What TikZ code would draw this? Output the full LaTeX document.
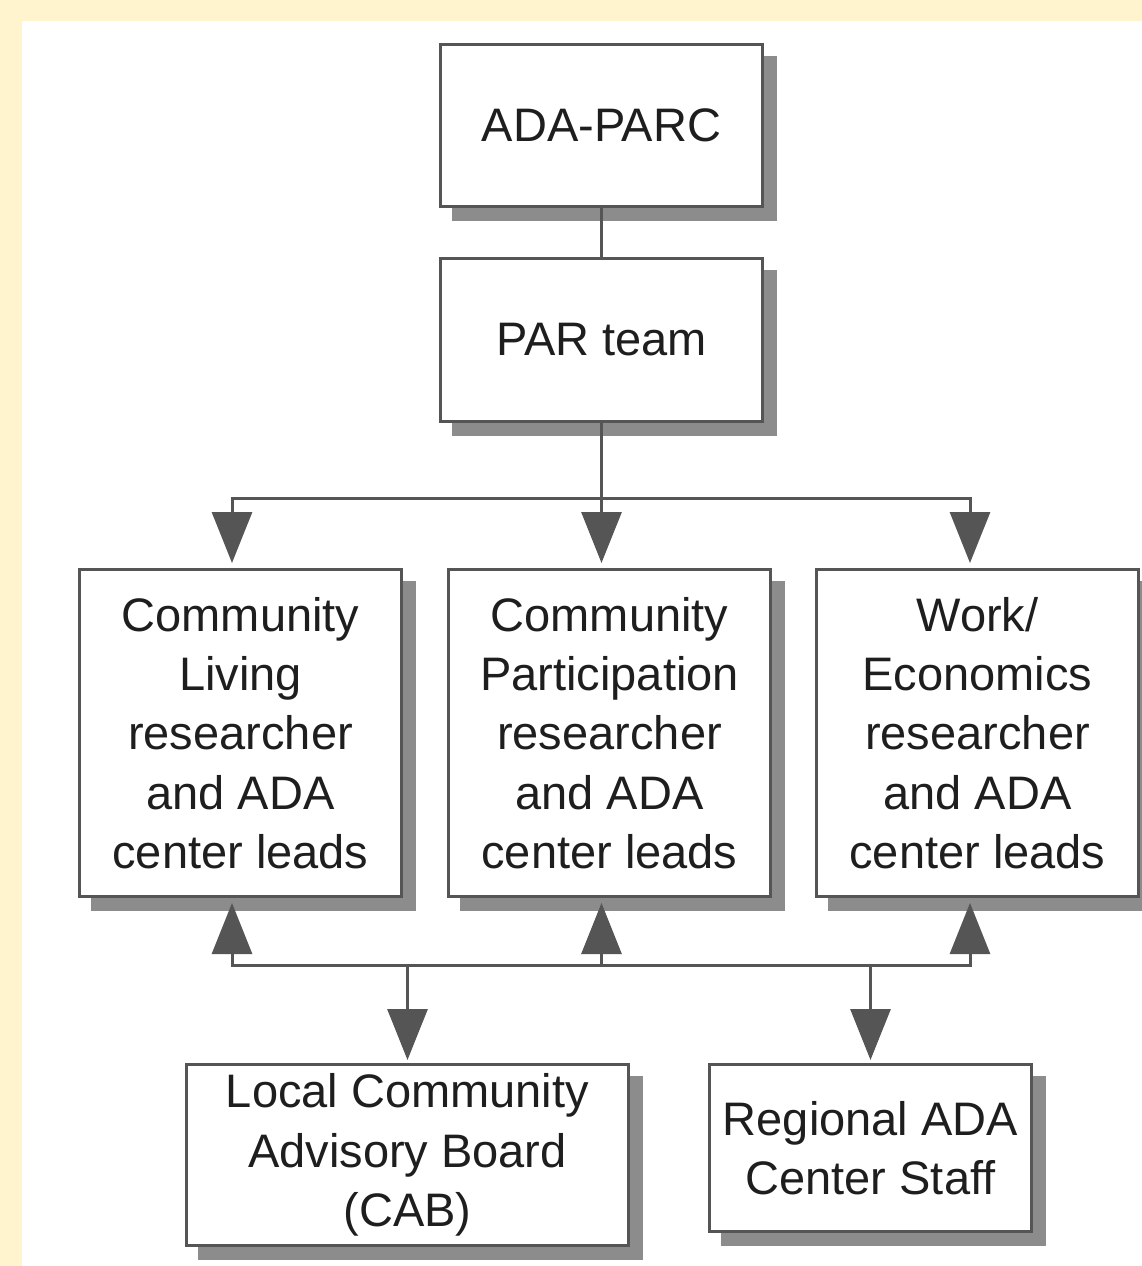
\documentclass[tikz,border=0pt]{standalone}
\usepackage{fontspec}
\setmainfont{Liberation Sans}
\usetikzlibrary{arrows.meta,shadows}
\definecolor{cream}{HTML}{FFF4CE}
\definecolor{linegray}{HTML}{555555}
\definecolor{shadowgray}{HTML}{8C8C8C}
\definecolor{textgray}{HTML}{1E1E1E}
\begin{document}
\begin{tikzpicture}[x=0.5pt,y=-0.5pt,
  box/.style={draw=linegray, line width=1.5pt, fill=white, inner sep=0pt, align=center, text=textgray,
    font=\fontsize{23.5}{29.6}\selectfont,
    general shadow={fill=shadowgray, draw=shadowgray, shadow xshift=6.5pt, shadow yshift=-6.5pt}},
  conn/.style={draw=linegray, line width=1.5pt, line join=miter},
  arr/.style={conn, -{Triangle[width=20pt,length=25.5pt]}},
]
\useasboundingbox (0,0) rectangle (1142,1266);
\fill[cream] (0,0) rectangle (1142,1266);
\fill[white] (22,21) rectangle (1142,1266);

\node[box, minimum width=161pt, minimum height=81pt] (adaparc) at (601.5,125.5) {ADA-PARC};
\node[box, minimum width=161pt, minimum height=81.5pt] (par) at (601.5,340) {PAR team};
\node[box, minimum width=161pt, minimum height=163.5pt] (cl) at (240.5,733) {Community\\Living\\researcher\\and ADA\\center leads};
\node[box, minimum width=161pt, minimum height=163.5pt] (cp) at (609.5,733) {Community\\Participation\\researcher\\and ADA\\center leads};
\node[box, minimum width=161pt, minimum height=163.5pt] (we) at (977.5,733) {Work/\\Economics\\researcher\\and ADA\\center leads};
\node[box, minimum width=221pt, minimum height=90.5pt] (cab) at (407.5,1155) {Local Community\\Advisory Board\\(CAB)};
\node[box, minimum width=161pt, minimum height=83.5pt] (reg) at (870.5,1148) {Regional ADA\\Center Staff};

\coordinate (tb) at (601.5,498);
\coordinate (bb) at (601.5,965);
\coordinate (clin) at ([xshift=-4.25pt,yshift=2.5pt]cl.north);
\coordinate (cpin) at ([xshift=-4.25pt,yshift=2.5pt]cp.north);
\coordinate (wein) at ([xshift=-3.75pt,yshift=2.5pt]we.north);
\coordinate (clout) at ([xshift=-4.25pt,yshift=-2.5pt]cl.south);
\coordinate (cpout) at ([xshift=-4.25pt,yshift=-2.5pt]cp.south);
\coordinate (weout) at ([xshift=-3.75pt,yshift=-2.5pt]we.south);
\coordinate (cabin) at ([yshift=1.5pt]cab.north);
\coordinate (regin) at ([yshift=1.5pt]reg.north);

\draw[conn] (adaparc) -- (par);
\draw[conn] (par.south) -- (tb);
\draw[arr] (tb) -| (clin);
\draw[arr] (tb) -| (wein);
\draw[arr] (tb) -- (tb |- cpin);

\draw[arr] (bb) -| (clout);
\draw[arr] (bb) -| (weout);
\draw[arr] (bb) -- (bb |- cpout);
\draw[arr] (cabin |- bb) -- (cabin);
\draw[arr] (regin |- bb) -- (regin);
\end{tikzpicture}
\end{document}
